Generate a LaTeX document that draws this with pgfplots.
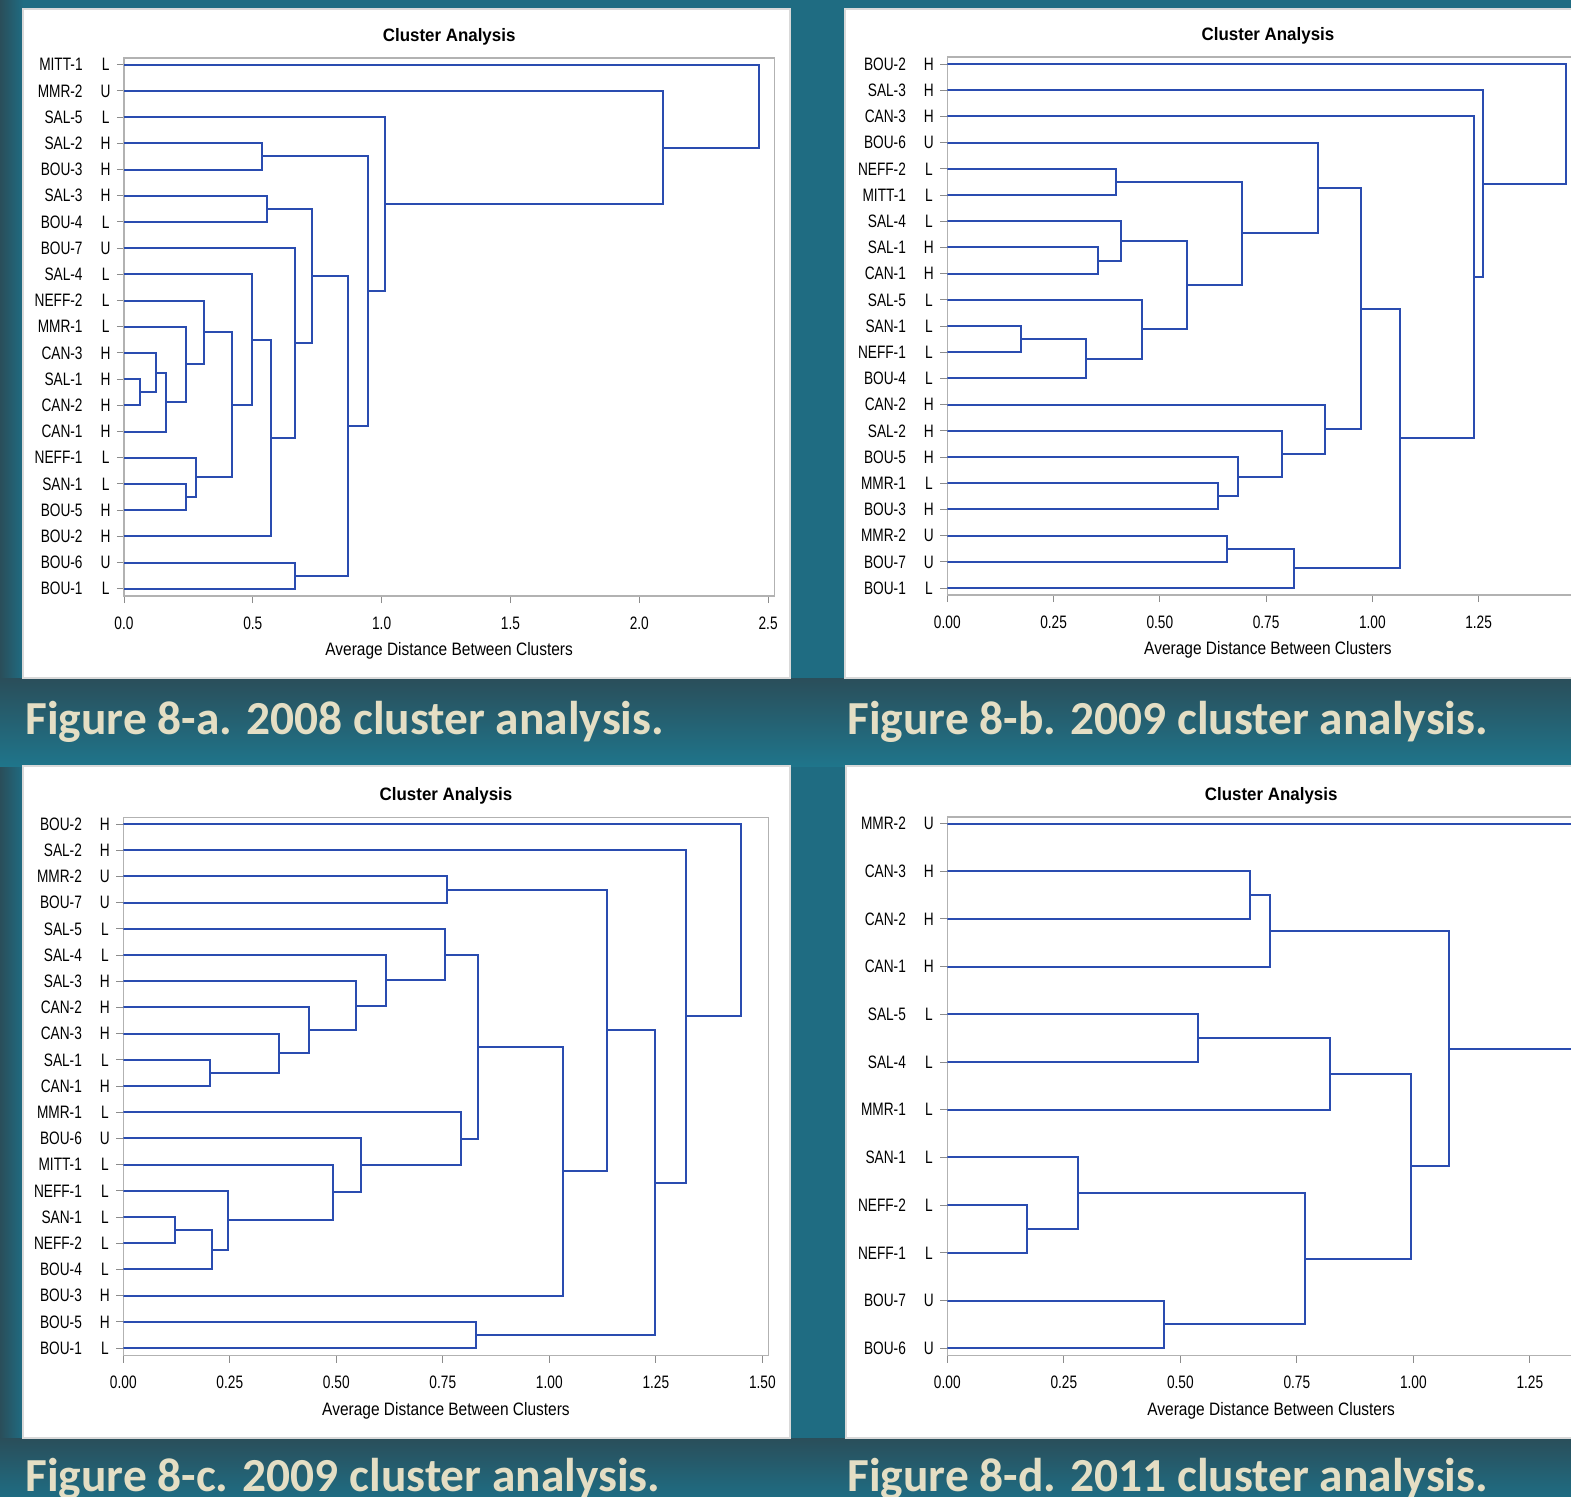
\documentclass[border=0pt]{standalone}
\usepackage{fontspec}
\usepackage{pgfplots}
\pgfplotsset{compat=1.18}
\setmainfont{Liberation Sans}
\newfontfamily\narrowfont[FakeStretch=0.76]{Liberation Sans}
\newfontfamily\xlabfont[FakeStretch=0.86]{Liberation Sans}
\newfontfamily\titlefont[FakeStretch=0.94]{Liberation Sans}
\newfontfamily\capfont{Carlito}
\definecolor{dblue}{RGB}{42,76,176}
\definecolor{capcol}{RGB}{228,222,196}
\definecolor{bgteal}{RGB}{31,108,130}
\definecolor{bgdark}{RGB}{42,78,90}
\definecolor{bglight}{RGB}{31,117,139}
\newcommand\lf[2]{\makebox[0pt][r]{#1}\hspace{8.5pt}\makebox[6pt][c]{#2}}
\newcommand\mg[5]{\addplot coordinates {(#1,#2) (#5,#2) (#5,#4) (#3,#4)};}
\pgfplotsset{dendro/.style={
  scale only axis, anchor=south west,
  axis line style={draw=black!30, line width=0.6pt},
  tick align=outside, major tick length=3.5pt,
  tick style={draw=black!45, line width=0.5pt},
  xtick pos=lower, ytick pos=left,
  xmin=0,
  no markers,
  every axis plot post/.append style={draw=dblue, solid, line width=1pt, mark=none},
  /pgf/number format/.cd, fixed, fixed zerofill, precision=2, assume math mode=true, /pgfplots/.cd,
  xticklabel style={font=\narrowfont\fontsize{9}{10}\selectfont, anchor=center, inner sep=0pt, yshift=-10pt},
  yticklabel style={font=\narrowfont\fontsize{9}{10}\selectfont, anchor=east, inner sep=0pt, xshift=-2.5pt},
  title={Cluster Analysis},
  every axis title shift=0pt,
  title style={at={(axis description cs:0.5,1)}, anchor=center, yshift=10.5pt, inner sep=0pt, font=\titlefont\bfseries\fontsize{9}{10}\selectfont},
  xlabel={Average Distance Between Clusters},
  xlabel style={at={(axis description cs:0.5,0)}, anchor=center, yshift=-27.5pt, inner sep=0pt, font=\xlabfont\fontsize{9}{10}\selectfont},
}}
\begin{document}
\begin{tikzpicture}
\path[use as bounding box] (0,0) rectangle (785.5pt,-748pt);
\clip (0,0) rectangle (785.5pt,-748pt);
\fill[bgteal] (0,0) rectangle (785.5pt,-748pt);
\shade[left color=bgdark, right color=bgteal] (0,0) rectangle (11.5pt,-339pt);
\shade[left color=bgdark, right color=bgteal] (0,-383pt) rectangle (11.5pt,-719pt);
\shade[top color=bgdark, bottom color=bglight] (0,-339pt) rectangle (785.5pt,-383pt);
\shade[top color=bgdark, bottom color=bgteal] (0,-719pt) rectangle (785.5pt,-748pt);
% panels
\filldraw[fill=white, draw=black!15, line width=0.6pt] (11.5pt,-4.5pt) rectangle (395pt,-339pt);
\filldraw[fill=white, draw=black!15, line width=0.6pt] (422.5pt,-4.5pt) rectangle (800pt,-339pt);
\filldraw[fill=white, draw=black!15, line width=0.6pt] (11.5pt,-383pt) rectangle (395pt,-719pt);
\filldraw[fill=white, draw=black!15, line width=0.6pt] (423pt,-383pt) rectangle (800pt,-719pt);
% captions
\begin{scope}[every node/.style={anchor=base west, inner sep=0pt, text=capcol, font=\capfont\bfseries\fontsize{23.7}{24}\selectfont}]
\node at (12.5pt,-367pt) {Figure 8-a. 2008 cluster analysis.};
\node at (423.5pt,-367pt) {Figure 8-b. 2009 cluster analysis.};
\node at (12.5pt,-745.5pt) {Figure 8-c. 2009 cluster analysis.};
\node at (423.5pt,-745.5pt) {Figure 8-d. 2011 cluster analysis.};
\end{scope}

% ---------- Panel a ----------
\begin{axis}[dendro, at={(62pt,-298pt)}, width=325.15pt, height=269pt,
  xmax=2.524, ymin=0.721, ymax=21.256,
  xtick={0,0.5,1,1.5,2,2.5}, /pgf/number format/precision=1,
  y filter/.expression={22-y},
  ytick={1,...,21},
  yticklabels={{\lf{BOU-1}{L}},{\lf{BOU-6}{U}},{\lf{BOU-2}{H}},{\lf{BOU-5}{H}},{\lf{SAN-1}{L}},{\lf{NEFF-1}{L}},{\lf{CAN-1}{H}},{\lf{CAN-2}{H}},{\lf{SAL-1}{H}},{\lf{CAN-3}{H}},{\lf{MMR-1}{L}},{\lf{NEFF-2}{L}},{\lf{SAL-4}{L}},{\lf{BOU-7}{U}},{\lf{BOU-4}{L}},{\lf{SAL-3}{H}},{\lf{BOU-3}{H}},{\lf{SAL-2}{H}},{\lf{SAL-5}{L}},{\lf{MMR-2}{U}},{\lf{MITT-1}{L}}},
]
\mg{0}{13}{0}{14}{0.062}
\mg{0}{12}{0.062}{13.5}{0.123}
\mg{0.123}{12.75}{0}{15}{0.164}
\mg{0}{11}{0.164}{13.875}{0.239}
\mg{0}{10}{0.239}{12.4375}{0.309}
\mg{0}{17}{0}{18}{0.239}
\mg{0}{16}{0.239}{17.5}{0.281}
\mg{0.309}{11.21875}{0.281}{16.75}{0.420}
\mg{0}{9}{0.420}{13.984}{0.495}
\mg{0.495}{11.492}{0}{19}{0.570}
\mg{0}{8}{0.570}{15.246}{0.665}
\mg{0}{6}{0}{7}{0.556}
\mg{0.556}{6.5}{0.665}{11.623}{0.728}
\mg{0}{20}{0}{21}{0.665}
\mg{0.728}{9.0615}{0.665}{20.5}{0.868}
\mg{0}{4}{0}{5}{0.537}
\mg{0.537}{4.5}{0.868}{14.781}{0.947}
\mg{0}{3}{0.947}{9.64}{1.013}
\mg{0}{2}{1.013}{6.32}{2.092}
\mg{0}{1}{2.092}{4.16}{2.463}
\end{axis}

% ---------- Panel b ----------
\begin{axis}[dendro, at={(473.65pt,-297.5pt)}, width=320.7pt, height=269pt,
  xmax=1.509, ymin=0.733, ymax=21.267,
  xtick={0,0.25,0.5,0.75,1,1.25},
  y filter/.expression={22-y},
  ytick={1,...,21},
  yticklabels={{\lf{BOU-1}{L}},{\lf{BOU-7}{U}},{\lf{MMR-2}{U}},{\lf{BOU-3}{H}},{\lf{MMR-1}{L}},{\lf{BOU-5}{H}},{\lf{SAL-2}{H}},{\lf{CAN-2}{H}},{\lf{BOU-4}{L}},{\lf{NEFF-1}{L}},{\lf{SAN-1}{L}},{\lf{SAL-5}{L}},{\lf{CAN-1}{H}},{\lf{SAL-1}{H}},{\lf{SAL-4}{L}},{\lf{MITT-1}{L}},{\lf{NEFF-2}{L}},{\lf{BOU-6}{U}},{\lf{CAN-3}{H}},{\lf{SAL-3}{H}},{\lf{BOU-2}{H}}},
]
\mg{0}{5}{0}{6}{0.398}
\mg{0}{8}{0}{9}{0.355}
\mg{0}{7}{0.355}{8.5}{0.409}
\mg{0}{11}{0}{12}{0.173}
\mg{0.173}{11.5}{0}{13}{0.327}
\mg{0}{10}{0.327}{12.25}{0.457}
\mg{0.409}{7.75}{0.457}{11.125}{0.565}
\mg{0.398}{5.5}{0.565}{9.4375}{0.694}
\mg{0}{4}{0.694}{7.46875}{0.873}
\mg{0}{17}{0}{18}{0.638}
\mg{0}{16}{0.638}{17.5}{0.683}
\mg{0}{15}{0.683}{16.75}{0.788}
\mg{0}{14}{0.788}{15.875}{0.889}
\mg{0.873}{5.734}{0.889}{14.9375}{0.974}
\mg{0}{19}{0}{20}{0.657}
\mg{0.657}{19.5}{0}{21}{0.816}
\mg{0.974}{10.336}{0.816}{20.25}{1.065}
\mg{0}{3}{1.065}{15.293}{1.238}
\mg{0}{2}{1.238}{9.1465}{1.260}
\mg{0}{1}{1.260}{5.573}{1.455}
\end{axis}

% ---------- Panel c ----------
\begin{axis}[dendro, at={(61.65pt,-677.85pt)}, width=322.7pt, height=269.2pt,
  xmax=1.515, ymin=0.706, ymax=21.256,
  xtick={0,0.25,0.5,0.75,1,1.25,1.5},
  y filter/.expression={22-y},
  ytick={1,...,21},
  yticklabels={{\lf{BOU-1}{L}},{\lf{BOU-5}{H}},{\lf{BOU-3}{H}},{\lf{BOU-4}{L}},{\lf{NEFF-2}{L}},{\lf{SAN-1}{L}},{\lf{NEFF-1}{L}},{\lf{MITT-1}{L}},{\lf{BOU-6}{U}},{\lf{MMR-1}{L}},{\lf{CAN-1}{H}},{\lf{SAL-1}{L}},{\lf{CAN-3}{H}},{\lf{CAN-2}{H}},{\lf{SAL-3}{H}},{\lf{SAL-4}{L}},{\lf{SAL-5}{L}},{\lf{BOU-7}{U}},{\lf{MMR-2}{U}},{\lf{SAL-2}{H}},{\lf{BOU-2}{H}}},
]
\mg{0}{10}{0}{11}{0.203}
\mg{0}{9}{0.203}{10.5}{0.366}
\mg{0}{8}{0.366}{9.75}{0.437}
\mg{0}{7}{0.437}{8.875}{0.547}
\mg{0}{6}{0.547}{7.9375}{0.617}
\mg{0}{5}{0.617}{6.96875}{0.754}
\mg{0}{3}{0}{4}{0.759}
\mg{0}{16}{0}{17}{0.122}
\mg{0.122}{16.5}{0}{18}{0.209}
\mg{0}{15}{0.209}{17.25}{0.246}
\mg{0}{14}{0.246}{16.125}{0.492}
\mg{0}{13}{0.492}{15.0625}{0.559}
\mg{0}{12}{0.559}{14.031}{0.793}
\mg{0.754}{5.984}{0.793}{13.016}{0.833}
\mg{0.833}{9.5}{0}{19}{1.033}
\mg{0.759}{3.5}{1.033}{14.25}{1.135}
\mg{0}{20}{0}{21}{0.827}
\mg{1.135}{8.875}{0.827}{20.5}{1.247}
\mg{0}{2}{1.247}{14.6875}{1.320}
\mg{0}{1}{1.320}{8.344}{1.449}
\end{axis}

% ---------- Panel d ----------
\begin{axis}[dendro, at={(473.65pt,-677.8pt)}, width=323.9pt, height=269.3pt,
  xmax=1.39, ymin=0.845, ymax=12.136,
  xtick={0,0.25,0.5,0.75,1,1.25},
  y filter/.expression={13-y},
  ytick={1,...,12},
  yticklabels={{\lf{BOU-6}{U}},{\lf{BOU-7}{U}},{\lf{NEFF-1}{L}},{\lf{NEFF-2}{L}},{\lf{SAN-1}{L}},{\lf{MMR-1}{L}},{\lf{SAL-4}{L}},{\lf{SAL-5}{L}},{\lf{CAN-1}{H}},{\lf{CAN-2}{H}},{\lf{CAN-3}{H}},{\lf{MMR-2}{U}}},
]
\mg{0}{5}{0}{6}{0.538}
\mg{0}{9}{0}{10}{0.170}
\mg{0}{8}{0.170}{9.5}{0.280}
\mg{0}{11}{0}{12}{0.464}
\mg{0}{2}{0}{3}{0.650}
\mg{0.650}{2.5}{0}{4}{0.692}
\mg{0.538}{5.5}{0}{7}{0.821}
\mg{0.280}{8.75}{0.464}{11.5}{0.768}
\mg{0.821}{6.25}{0.768}{10.125}{0.994}
\mg{0.692}{3.25}{0.994}{8.1875}{1.077}
\mg{0}{1}{1.077}{5.71875}{1.36}
\end{axis}
\end{tikzpicture}
\end{document}
